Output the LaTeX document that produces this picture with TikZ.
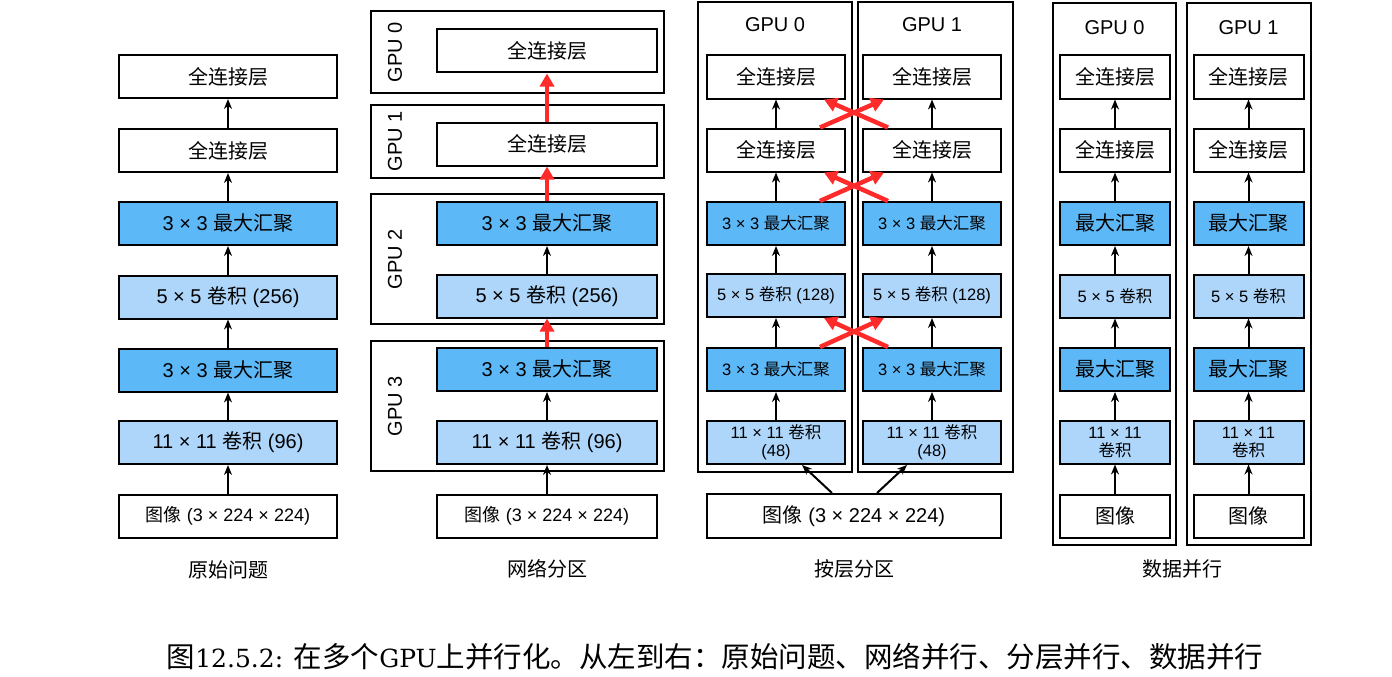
\documentclass[tikz,border=0pt]{standalone}
\usepackage{fontspec}
\usetikzlibrary{arrows.meta}
\newfontfamily\arialf{Liberation Sans}
\newfontfamily\cjk{Noto Sans CJK SC}
\newfontfamily\capserif{DejaVu Serif}
\newcommand{\CJ}[1]{{\cjk #1}}
\newcommand{\CC}[1]{{\cjk\fontsize{28.5}{32}\selectfont #1}}
\definecolor{poolc}{HTML}{5DB8F8}
\definecolor{convc}{HTML}{AED6FB}
\definecolor{redc}{HTML}{FF2A2A}
\tikzset{
  blk/.style={draw=black, line width=2pt, rectangle, inner sep=0pt, align=center},
  fcb/.style={blk, fill=white},
  poolb/.style={blk, fill=poolc},
  convb/.style={blk, fill=convc},
  gframe/.style={draw=black, line width=2pt, rectangle, inner sep=0pt},
  bigf/.style={font=\arialf\fontsize{20}{23}\selectfont},
  smallf/.style={font=\arialf\fontsize{16.5}{19}\selectfont},
  imgf/.style={font=\arialf\fontsize{18}{21}\selectfont},
  wA/.style={minimum width=218pt, minimum height=43pt},
  wB/.style={minimum width=220pt, minimum height=43pt},
  wC/.style={minimum width=138pt, minimum height=43pt},
  wD/.style={minimum width=110pt, minimum height=43pt},
  gpul/.style={font=\arialf\fontsize{20}{23}\selectfont, inner sep=0pt},
  collab/.style={font=\cjk\fontsize{20}{23}\selectfont, inner sep=0pt},
  arr/.style={-{Stealth[length=10pt,width=8pt]}, line width=2pt},
  rarr/.style={-{Triangle[length=13pt,width=14pt]}, line width=4.5pt, draw=redc},
}
\begin{document}
\begin{tikzpicture}[x=1pt,y=-1pt]
\useasboundingbox (0,0) rectangle (1392,677);
% ---------- column 1 ----------
\node[fcb,wA,bigf]   (a7) at (228,76.5)  {\CJ{全连接层}};
\node[fcb,wA,bigf]   (a6) at (228,150.5) {\CJ{全连接层}};
\node[poolb,wA,bigf] (a5) at (228,223.5) {3 × 3 \CJ{最大汇聚}};
\node[convb,wA,bigf] (a4) at (228,297)   {5 × 5 \CJ{卷积} (256)};
\node[poolb,wA,bigf] (a3) at (228,370)   {3 × 3 \CJ{最大汇聚}};
\node[convb,wA,bigf] (a2) at (228,442.5) {11 × 11 \CJ{卷积} (96)};
\node[fcb,wA,imgf]   (a1) at (228,516)   {\CJ{图像} (3 × 224 × 224)};
\foreach \s/\t in {a1/a2,a2/a3,a3/a4,a4/a5,a5/a6,a6/a7} \draw[arr] (\s) -- (\t);
\node[collab] (la) at (228,570) {原始问题};
% ---------- column 2 ----------
\node[gframe, minimum width=293pt, minimum height=82pt]  (g0) at (517.5,52)  {};
\node[gframe, minimum width=293pt, minimum height=73pt]  (g1) at (517.5,141.5) {};
\node[gframe, minimum width=293pt, minimum height=130pt] (g2) at (517.5,259) {};
\node[gframe, minimum width=293pt, minimum height=130pt] (g3) at (517.5,406) {};
\node[gpul, rotate=90] (gl0) at (395,52)  {GPU 0};
\node[gpul, rotate=90] (gl1) at (395,141.5) {GPU 1};
\node[gpul, rotate=90] (gl2) at (395,259) {GPU 2};
\node[gpul, rotate=90] (gl3) at (395,406) {GPU 3};
\node[fcb,wB,bigf]   (b7) at (547,51)    {\CJ{全连接层}};
\node[fcb,wB,bigf]   (b6) at (547,144)   {\CJ{全连接层}};
\node[poolb,wB,bigf] (b5) at (547,223.5) {3 × 3 \CJ{最大汇聚}};
\node[convb,wB,bigf] (b4) at (547,296)   {5 × 5 \CJ{卷积} (256)};
\node[poolb,wB,bigf] (b3) at (547,369.5) {3 × 3 \CJ{最大汇聚}};
\node[convb,wB,bigf] (b2) at (547,442.5) {11 × 11 \CJ{卷积} (96)};
\node[fcb,wB,imgf]   (b1) at (547,516)   {\CJ{图像} (3 × 224 × 224)};
\draw[arr] (b1) -- (b2);
\draw[arr] (b2) -- (b3);
\draw[arr] (b4) -- (b5);
\draw[rarr] (b3) -- (b4);
\draw[rarr] (b5) -- (b6);
\draw[rarr] (b6) -- (b7);
\node[collab] (lb) at (547,569) {网络分区};
% ---------- column 3 ----------
\node[gframe, minimum width=154pt, minimum height=470pt] (hL) at (775,237) {};
\node[gframe, minimum width=155pt, minimum height=470pt] (hR) at (935.5,237) {};
\node[gpul] (hlL) at (775,25) {GPU 0};
\node[gpul] (hlR) at (932,25) {GPU 1};
\foreach \side/\xx in {L/776,R/932}{
  \node[fcb,wC,bigf]     (c6\side) at (\xx,77)    {\CJ{全连接层}};
  \node[fcb,wC,bigf]     (c5\side) at (\xx,150)   {\CJ{全连接层}};
  \node[poolb,wC,smallf] (c4\side) at (\xx,223.5) {3 × 3 \CJ{最大汇聚}};
  \node[convb,wC,smallf] (c3\side) at (\xx,295.5) {5 × 5 \CJ{卷积} (128)};
  \node[poolb,wC,smallf] (c2\side) at (\xx,369.5) {3 × 3 \CJ{最大汇聚}};
  \node[convb,wC,smallf,font=\arialf\fontsize{16.5}{18}\selectfont] (c1\side) at (\xx,442.5) {11 × 11 \CJ{卷积}\\(48)};
  \draw[arr] (c1\side) -- (c2\side);
  \draw[arr] (c2\side) -- (c3\side);
  \draw[arr] (c3\side) -- (c4\side);
  \draw[arr] (c4\side) -- (c5\side);
  \draw[arr] (c5\side) -- (c6\side);
}
\node[fcb, minimum width=294pt, minimum height=44pt, font=\arialf\fontsize{20}{23}\selectfont] (c0) at (854,516) {\CJ{图像} (3 × 224 × 224)};
\draw[arr] ([xshift=-22pt]c0.north) -- ([xshift=26pt]c1L.south);
\draw[arr] ([xshift=23pt]c0.north) -- ([xshift=-25pt]c1R.south);
\foreach \s/\t in {2/3,4/5,5/6}{
  \draw[rarr] ([xshift=44pt]c\s L.north) -- ([xshift=-48pt]c\t R.south);
  \draw[rarr] ([xshift=-44pt]c\s R.north) -- ([xshift=48pt]c\t L.south);
}
\node[collab] (lc) at (854,569) {按层分区};
% ---------- column 4 ----------
\node[gframe, minimum width=123pt, minimum height=542pt] (dL) at (1114.5,274) {};
\node[gframe, minimum width=124pt, minimum height=542pt] (dR) at (1249,274) {};
\node[gpul] (dlL) at (1114.5,28) {GPU 0};
\node[gpul] (dlR) at (1248.5,28) {GPU 1};
\foreach \side/\xx in {L/1115,R/1248.5}{
  \node[fcb,wD,bigf]     (e7\side) at (\xx,77)    {\CJ{全连接层}};
  \node[fcb,wD,bigf]     (e6\side) at (\xx,150)   {\CJ{全连接层}};
  \node[poolb,wD,bigf]   (e5\side) at (\xx,223.5) {\CJ{最大汇聚}};
  \node[convb,wD,smallf] (e4\side) at (\xx,296)   {5 × 5 \CJ{卷积}};
  \node[poolb,wD,bigf]   (e3\side) at (\xx,369.5) {\CJ{最大汇聚}};
  \node[convb,wD,font=\arialf\fontsize{16.5}{18}\selectfont] (e2\side) at (\xx,442) {11 × 11\\\CJ{卷积}};
  \node[fcb,wD,bigf]     (e1\side) at (\xx,516)   {\CJ{图像}};
  \draw[arr] (e1\side) -- (e2\side);
  \draw[arr] (e2\side) -- (e3\side);
  \draw[arr] (e3\side) -- (e4\side);
  \draw[arr] (e4\side) -- (e5\side);
  \draw[arr] (e5\side) -- (e6\side);
  \draw[arr] (e6\side) -- (e7\side);
}
\node[collab] (ld) at (1182,569) {数据并行};
% ---------- caption ----------
\node[inner sep=0pt, font=\capserif\fontsize{25}{30}\selectfont] (cap) at (715,657)
  {\CC{图}12.5.2: \CC{在多个}GPU\CC{上并行化。从左到右：原始问题、网络并行、分层并行、数据并行}};
\end{tikzpicture}
\end{document}
